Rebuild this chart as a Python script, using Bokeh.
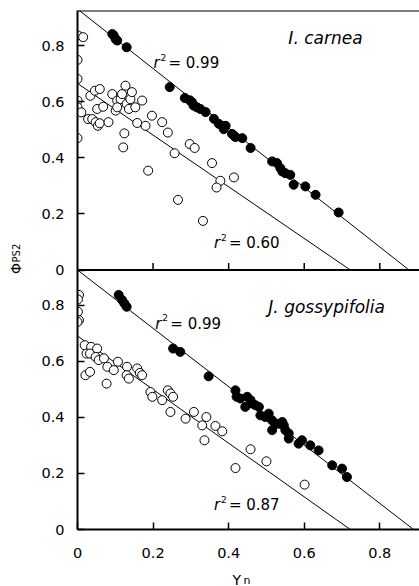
import math
from bokeh.plotting import figure
from bokeh.layouts import row, column
from bokeh.models import Range1d, FixedTicker, Span, Label
from bokeh.embed import file_html
from bokeh.resources import INLINE

# ---------------- data ----------------
# Top panel: I. carnea
carnea_filled_x = [0.092, 0.096, 0.101, 0.105, 0.130, 0.244, 0.284, 0.297, 0.303, 0.307, 0.316, 0.325,
                   0.339, 0.361, 0.374, 0.383, 0.392, 0.387, 0.409, 0.414, 0.418, 0.436, 0.458, 0.515,
                   0.528, 0.537, 0.542, 0.550, 0.563, 0.572, 0.603, 0.630, 0.691]
carnea_filled_y = [0.841, 0.836, 0.823, 0.818, 0.794, 0.652, 0.613, 0.605, 0.598, 0.586, 0.580, 0.574,
                   0.563, 0.539, 0.521, 0.514, 0.514, 0.502, 0.485, 0.479, 0.474, 0.470, 0.435, 0.387,
                   0.381, 0.363, 0.351, 0.345, 0.339, 0.304, 0.298, 0.268, 0.205]
carnea_open_x = [0.001, 0.015, 0.0, 0.0, 0.0, 0.0, 0.010, 0.0, 0.028, 0.039, 0.048, 0.054, 0.059, 0.034,
                 0.046, 0.059, 0.052, 0.068, 0.092, 0.105, 0.101, 0.114, 0.118, 0.127, 0.130, 0.140,
                 0.136, 0.144, 0.153, 0.105, 0.158, 0.171, 0.180, 0.124, 0.121, 0.197, 0.187, 0.224,
                 0.239, 0.257, 0.266, 0.297, 0.310, 0.082, 0.356, 0.378, 0.368, 0.414, 0.332]
carnea_open_y = [0.836, 0.830, 0.749, 0.681, 0.604, 0.580, 0.562, 0.470, 0.538, 0.538, 0.527, 0.514, 0.523,
                 0.621, 0.639, 0.645, 0.574, 0.582, 0.627, 0.604, 0.568, 0.609, 0.627, 0.657, 0.592,
                 0.609, 0.574, 0.634, 0.580, 0.580, 0.524, 0.604, 0.514, 0.487, 0.437, 0.550, 0.354,
                 0.527, 0.490, 0.416, 0.250, 0.449, 0.435, 0.527, 0.381, 0.318, 0.294, 0.330, 0.175]

# Bottom panel: J. gossypifolia
goss_filled_x = [0.109, 0.118, 0.124, 0.130, 0.253, 0.272, 0.347, 0.418, 0.421, 0.431, 0.449, 0.444,
                 0.458, 0.462, 0.471, 0.480, 0.484, 0.497, 0.506, 0.515, 0.524, 0.515, 0.533, 0.542,
                 0.546, 0.550, 0.559, 0.559, 0.585, 0.594, 0.616, 0.638, 0.674, 0.700, 0.713]
goss_filled_y = [0.836, 0.818, 0.806, 0.794, 0.645, 0.633, 0.546, 0.496, 0.473, 0.467, 0.473, 0.437,
                 0.461, 0.449, 0.443, 0.437, 0.407, 0.401, 0.413, 0.389, 0.377, 0.354, 0.377, 0.383,
                 0.371, 0.354, 0.342, 0.324, 0.306, 0.318, 0.300, 0.282, 0.229, 0.217, 0.187]
goss_open_x = [0.004, 0.001, 0.001, 0.004, 0.0, 0.019, 0.036, 0.024, 0.033, 0.052, 0.048, 0.056, 0.070,
               0.021, 0.033, 0.079, 0.077, 0.096, 0.107, 0.131, 0.130, 0.136, 0.158, 0.165, 0.171,
               0.193, 0.198, 0.224, 0.239, 0.246, 0.253, 0.246, 0.286, 0.308, 0.330, 0.336, 0.341,
               0.365, 0.383, 0.458, 0.500, 0.418, 0.601]
goss_open_y = [0.836, 0.820, 0.776, 0.746, 0.740, 0.657, 0.651, 0.627, 0.627, 0.645, 0.615, 0.604, 0.610,
               0.550, 0.562, 0.580, 0.520, 0.568, 0.598, 0.580, 0.550, 0.538, 0.574, 0.558, 0.550,
               0.490, 0.473, 0.461, 0.496, 0.485, 0.473, 0.419, 0.395, 0.419, 0.371, 0.318, 0.401,
               0.369, 0.350, 0.286, 0.243, 0.219, 0.160]

# regression lines (intercept, slope)
carnea_filled_fit = (0.930, -1.060)
carnea_open_fit = (0.665, -0.921)
goss_filled_fit = (0.925, -1.040)
goss_open_fit = (0.690, -0.956)

r2_labels = ["0.99", "0.60", "0.99", "0.87"]
species = ["I. carnea", "J. gossypifolia"]
tick_vals = [0, 0.2, 0.4, 0.6, 0.8]
tick_text = ["0", "0.2", "0.4", "0.6", "0.8"]

# ---------------- layout ----------------
PANEL_H = 0.925        # height of each panel in data units
X_END = 0.905
FONT = "DejaVu Sans"
W, H = 419, 586
LEFT_W = 22
BOTTOM_H = 25
MAIN_W = W - LEFT_W
MAIN_H = H - BOTTOM_H

p = figure(width=MAIN_W, height=MAIN_H, output_backend="svg", toolbar_location=None,
           x_range=Range1d(0, X_END), y_range=Range1d(0, 2 * PANEL_H),
           min_border_left=55, min_border_right=0, min_border_top=10, min_border_bottom=32)
p.outline_line_color = None
p.grid.visible = False
p.background_fill_color = "white"

# axes
xa = p.xaxis[0]
xa.ticker = FixedTicker(ticks=tick_vals)
xa.major_label_overrides = {v: t for v, t in zip(tick_vals, tick_text)}
ya = p.yaxis[0]
y_ticks = [round(v, 3) for v in tick_vals] + [round(PANEL_H + v, 3) for v in tick_vals]
ya.ticker = FixedTicker(ticks=y_ticks)
ya.major_label_overrides = {round(v, 3): t for v, t in zip(tick_vals, tick_text)} | \
                           {round(PANEL_H + v, 3): t for v, t in zip(tick_vals, tick_text)}
for ax in (xa, ya):
    ax.axis_line_width = 2
    ax.axis_line_color = "black"
    ax.major_tick_in = 7
    ax.major_tick_out = 0
    ax.major_tick_line_width = 1.5
    ax.minor_tick_line_color = None
    ax.major_label_text_font = FONT
    ax.major_label_text_font_size = "14.5px"
    ax.major_label_text_color = "black"
xa.major_label_standoff = 18
ya.major_label_standoff = 13

# top border and panel separator
p.add_layout(Span(location=2 * PANEL_H, dimension="width", line_color="black", line_width=2))
p.add_layout(Span(location=PANEL_H, dimension="width", line_color="black", line_width=2))
p.ray(x=tick_vals[1:], y=[PANEL_H] * 4, length=7, length_units="screen", angle=math.pi / 2,
      line_color="black", line_width=1.5)


def fit_line(fit, offset):
    a, b = fit
    x1 = -a / b
    return [0, x1], [a + offset, 0 + offset]


for fit, off in [(carnea_filled_fit, PANEL_H), (carnea_open_fit, PANEL_H),
                 (goss_filled_fit, 0), (goss_open_fit, 0)]:
    lx, ly = fit_line(fit, off)
    p.line(lx, ly, line_color="black", line_width=1)

# points
p.scatter(carnea_open_x, [v + PANEL_H for v in carnea_open_y], size=9, marker="circle",
          fill_color="white", line_color="black", line_width=1)
p.scatter(carnea_filled_x, [v + PANEL_H for v in carnea_filled_y], size=9, marker="circle",
          fill_color="black", line_color="black", line_width=1)
p.scatter(goss_open_x, goss_open_y, size=9, marker="circle",
          fill_color="white", line_color="black", line_width=1)
p.scatter(goss_filled_x, goss_filled_y, size=9, marker="circle",
          fill_color="black", line_color="black", line_width=1)

# species labels
p.add_layout(Label(x=0.558, y=1.752, text=species[0], text_font=FONT, text_font_style="italic",
                   text_font_size="17px", text_baseline="alphabetic", text_align="left",
                   text_color="black"))
p.add_layout(Label(x=0.505, y=0.793, text=species[1], text_font=FONT, text_font_style="italic",
                   text_font_size="17px", text_baseline="alphabetic", text_align="left",
                   text_color="black"))

# r^2 labels
r2_pos = [(0.201, 1.662), (0.361, 1.021), (0.206, 0.733), (0.361, 0.0856)]
for (x, y), txt in zip(r2_pos, r2_labels):
    p.add_layout(Label(x=x, y=y, text="r", text_font=FONT, text_font_style="italic",
                       text_font_size="15px", text_baseline="alphabetic", text_color="black"))
    p.add_layout(Label(x=x, y=y, x_offset=7, y_offset=6, text="2", text_font=FONT,
                       text_font_size="9px", text_baseline="alphabetic", text_color="black"))
    p.add_layout(Label(x=x, y=y, x_offset=15, text="= " + txt, text_font=FONT,
                       text_font_size="15px", text_baseline="alphabetic", text_color="black"))


def strip(width, height, x_range):
    s = figure(width=width, height=height, output_backend="svg", toolbar_location=None,
               x_range=x_range, y_range=Range1d(0, height),
               min_border=0, min_border_left=0, min_border_right=0,
               min_border_top=0, min_border_bottom=0)
    s.axis.visible = False
    s.grid.visible = False
    s.outline_line_color = None
    s.background_fill_color = "white"
    return s


# y axis title Phi_PS2 (left strip)
left = strip(LEFT_W, H, Range1d(0, LEFT_W))
left.add_layout(Label(x=15, y=H - 268, text="Φ", text_font=FONT, text_font_size="14px",
                      angle=math.pi / 2, text_align="center", text_baseline="middle",
                      text_color="black"))
left.add_layout(Label(x=16, y=H - 262, text="PS2", text_font=FONT, text_font_size="10px",
                      angle=math.pi / 2, text_align="left", text_baseline="middle",
                      text_color="black"))

# x axis title Y_n (bottom strip; its frame is aligned with the main plot's frame)
bottom = strip(MAIN_W, BOTTOM_H, p.x_range)
bottom.add_layout(Label(x=0.410, y=7, text="Y", text_font=FONT, text_font_size="14px",
                        text_baseline="alphabetic", text_color="black"))
bottom.add_layout(Label(x=0.410, y=7, x_offset=11, y_offset=-1, text="n", text_font=FONT,
                        text_font_size="11px", text_baseline="alphabetic", text_color="black"))

layout = row(left, column(p, bottom))
open("out.html", "w").write(file_html(layout, INLINE))
